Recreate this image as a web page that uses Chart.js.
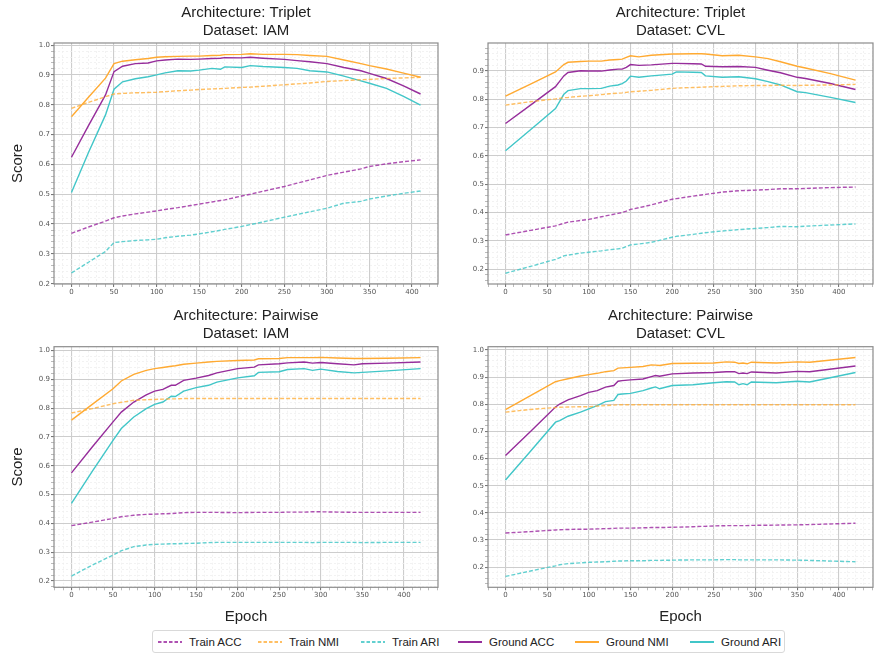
<!DOCTYPE html>
<html>
<head>
<meta charset="utf-8">
<script src="https://cdn.jsdelivr.net/npm/chart.js@4/dist/chart.umd.min.js"></script>
<style>
  html, body { margin: 0; padding: 0; background: #fff; }
  #wrap { position: relative; width: 881px; height: 657px; overflow: hidden; font-family: "Liberation Sans", Arial, sans-serif; }
  canvas { position: absolute; }
  #legend { position: absolute; left: 152px; top: 630px; width: 633px; height: 23px; border: 1px solid #d9d9d9; border-radius: 3px; box-sizing: border-box; }
  .li { position: absolute; top: 0; height: 21px; display: flex; align-items: center; font-size: 11.5px; color: #222; white-space: nowrap; }
  .li svg { margin-right: 7px; }
</style>
</head>
<body>
<div id="wrap">
  <canvas id="c1" width="445" height="300" style="left:0;top:0"></canvas>
  <canvas id="c2" width="436" height="300" style="left:445px;top:0"></canvas>
  <canvas id="c3" width="445" height="330" style="left:0;top:300px"></canvas>
  <canvas id="c4" width="436" height="330" style="left:445px;top:300px"></canvas>
  <div id="legend"></div>
</div>
<script>
// ---------------- DATA ----------------
const seriesNames = ['Train ACC', 'Train NMI', 'Train ARI', 'Ground ACC', 'Ground NMI', 'Ground ARI'];
const xTickLabels = [0, 50, 100, 150, 200, 250, 300, 350, 400];
const yTickLabels = [0.2, 0.3, 0.4, 0.5, 0.6, 0.7, 0.8, 0.9, 1.0];

// Triplet / IAM
const tiEpochs = [0, 20, 40, 50, 60, 75, 90, 100, 110, 125, 140, 150, 165, 175, 180, 200, 210, 225, 250, 265, 280, 300, 320, 340, 350, 370, 390, 410];
const tiTrainAcc = [0.369, 0.390, 0.410, 0.421, 0.427, 0.434, 0.440, 0.444, 0.449, 0.455, 0.462, 0.467, 0.474, 0.479, 0.481, 0.494, 0.500, 0.510, 0.526, 0.537, 0.548, 0.563, 0.574, 0.585, 0.593, 0.602, 0.609, 0.615];
const tiTrainNmi = [0.788, 0.808, 0.827, 0.836, 0.838, 0.840, 0.841, 0.842, 0.844, 0.847, 0.849, 0.851, 0.853, 0.854, 0.855, 0.858, 0.859, 0.862, 0.867, 0.870, 0.873, 0.878, 0.881, 0.884, 0.885, 0.888, 0.890, 0.892];
const tiTrainAri = [0.236, 0.272, 0.308, 0.338, 0.341, 0.345, 0.347, 0.349, 0.354, 0.359, 0.363, 0.367, 0.374, 0.379, 0.382, 0.392, 0.398, 0.407, 0.423, 0.432, 0.441, 0.453, 0.470, 0.476, 0.484, 0.494, 0.503, 0.511];
const tiGroundAcc = [0.624, 0.730, 0.833, 0.911, 0.929, 0.938, 0.940, 0.947, 0.950, 0.953, 0.952, 0.953, 0.955, 0.956, 0.958, 0.957, 0.959, 0.956, 0.952, 0.948, 0.944, 0.938, 0.925, 0.914, 0.905, 0.888, 0.863, 0.836];
const tiGroundNmi = [0.760, 0.825, 0.889, 0.938, 0.946, 0.951, 0.955, 0.959, 0.961, 0.962, 0.963, 0.963, 0.965, 0.966, 0.968, 0.969, 0.971, 0.969, 0.969, 0.968, 0.965, 0.962, 0.950, 0.938, 0.931, 0.920, 0.906, 0.892];
const tiGroundAri = [0.506, 0.640, 0.766, 0.852, 0.877, 0.887, 0.894, 0.900, 0.907, 0.914, 0.913, 0.916, 0.922, 0.919, 0.927, 0.925, 0.931, 0.928, 0.925, 0.922, 0.914, 0.910, 0.896, 0.880, 0.872, 0.855, 0.828, 0.799];

// Triplet / CVL
const tcEpochs = [0, 30, 60, 70, 75, 90, 100, 115, 125, 135, 140, 145, 150, 160, 175, 200, 205, 225, 235, 240, 260, 280, 300, 315, 330, 350, 360, 390, 420];
const tcTrainAcc = [0.321, 0.337, 0.353, 0.362, 0.366, 0.372, 0.376, 0.385, 0.391, 0.397, 0.400, 0.405, 0.411, 0.417, 0.427, 0.447, 0.449, 0.458, 0.462, 0.464, 0.472, 0.477, 0.479, 0.481, 0.484, 0.484, 0.485, 0.488, 0.490];
const tcTrainNmi = [0.779, 0.791, 0.801, 0.805, 0.806, 0.810, 0.812, 0.816, 0.819, 0.821, 0.822, 0.824, 0.826, 0.828, 0.831, 0.838, 0.839, 0.841, 0.842, 0.843, 0.845, 0.847, 0.848, 0.848, 0.849, 0.848, 0.849, 0.850, 0.852];
const tcTrainAri = [0.186, 0.210, 0.235, 0.247, 0.250, 0.257, 0.260, 0.265, 0.269, 0.272, 0.274, 0.280, 0.286, 0.289, 0.295, 0.313, 0.316, 0.323, 0.327, 0.329, 0.335, 0.340, 0.344, 0.347, 0.351, 0.350, 0.352, 0.356, 0.360];
const tcGroundAcc = [0.714, 0.779, 0.844, 0.882, 0.894, 0.900, 0.899, 0.899, 0.903, 0.906, 0.906, 0.912, 0.922, 0.919, 0.921, 0.926, 0.926, 0.925, 0.924, 0.916, 0.914, 0.915, 0.912, 0.902, 0.893, 0.877, 0.873, 0.855, 0.834];
const tcGroundNmi = [0.811, 0.853, 0.896, 0.922, 0.930, 0.933, 0.934, 0.934, 0.938, 0.940, 0.941, 0.947, 0.953, 0.949, 0.955, 0.959, 0.959, 0.960, 0.960, 0.959, 0.953, 0.955, 0.949, 0.943, 0.932, 0.916, 0.910, 0.890, 0.867];
const tcGroundAri = [0.618, 0.692, 0.767, 0.817, 0.830, 0.837, 0.837, 0.838, 0.846, 0.850, 0.855, 0.864, 0.881, 0.877, 0.882, 0.888, 0.896, 0.895, 0.894, 0.882, 0.877, 0.879, 0.872, 0.862, 0.850, 0.826, 0.823, 0.806, 0.788];

// Pairwise / IAM
const piEpochs = [0, 25, 50, 60, 75, 90, 100, 110, 120, 125, 135, 150, 165, 175, 200, 220, 225, 250, 260, 280, 290, 300, 320, 340, 350, 380, 420];
const piTrainAcc = [0.392, 0.404, 0.417, 0.423, 0.428, 0.431, 0.432, 0.433, 0.434, 0.435, 0.437, 0.438, 0.438, 0.438, 0.437, 0.438, 0.438, 0.438, 0.439, 0.439, 0.440, 0.440, 0.439, 0.438, 0.438, 0.438, 0.438];
const piTrainNmi = [0.783, 0.798, 0.815, 0.820, 0.827, 0.829, 0.830, 0.831, 0.832, 0.832, 0.833, 0.833, 0.833, 0.833, 0.833, 0.833, 0.833, 0.833, 0.833, 0.833, 0.833, 0.833, 0.833, 0.833, 0.833, 0.833, 0.833];
const piTrainAri = [0.217, 0.255, 0.290, 0.305, 0.319, 0.325, 0.327, 0.328, 0.329, 0.329, 0.330, 0.331, 0.333, 0.334, 0.334, 0.334, 0.334, 0.334, 0.334, 0.334, 0.333, 0.334, 0.334, 0.334, 0.333, 0.334, 0.334];
const piGroundAcc = [0.575, 0.665, 0.752, 0.786, 0.821, 0.846, 0.859, 0.865, 0.879, 0.879, 0.896, 0.904, 0.913, 0.922, 0.937, 0.942, 0.950, 0.954, 0.957, 0.960, 0.956, 0.958, 0.954, 0.950, 0.954, 0.956, 0.960];
const piGroundNmi = [0.758, 0.813, 0.867, 0.894, 0.917, 0.931, 0.937, 0.941, 0.945, 0.947, 0.952, 0.956, 0.960, 0.962, 0.965, 0.967, 0.971, 0.972, 0.975, 0.975, 0.975, 0.976, 0.974, 0.972, 0.972, 0.973, 0.975];
const piGroundAri = [0.469, 0.580, 0.688, 0.729, 0.769, 0.798, 0.813, 0.821, 0.841, 0.840, 0.859, 0.871, 0.879, 0.890, 0.905, 0.912, 0.924, 0.926, 0.934, 0.937, 0.931, 0.935, 0.927, 0.922, 0.924, 0.929, 0.937];

// Pairwise / CVL
const pcEpochs = [0, 30, 60, 65, 75, 90, 100, 110, 120, 130, 135, 140, 150, 165, 175, 180, 185, 200, 225, 250, 265, 275, 280, 285, 290, 295, 325, 350, 365, 420];
const pcTrainAcc = [0.326, 0.331, 0.337, 0.338, 0.339, 0.340, 0.340, 0.341, 0.342, 0.343, 0.344, 0.344, 0.344, 0.345, 0.346, 0.346, 0.346, 0.347, 0.349, 0.352, 0.353, 0.353, 0.353, 0.353, 0.353, 0.354, 0.355, 0.356, 0.357, 0.362];
const pcTrainNmi = [0.771, 0.781, 0.788, 0.789, 0.790, 0.791, 0.791, 0.793, 0.795, 0.797, 0.798, 0.798, 0.798, 0.798, 0.798, 0.798, 0.798, 0.798, 0.798, 0.798, 0.798, 0.798, 0.798, 0.798, 0.798, 0.798, 0.798, 0.798, 0.798, 0.798];
const pcTrainAri = [0.166, 0.186, 0.205, 0.209, 0.213, 0.216, 0.218, 0.219, 0.220, 0.222, 0.223, 0.223, 0.224, 0.224, 0.225, 0.225, 0.225, 0.226, 0.227, 0.227, 0.228, 0.228, 0.227, 0.227, 0.227, 0.227, 0.227, 0.226, 0.225, 0.220];
const pcGroundAcc = [0.611, 0.700, 0.790, 0.801, 0.816, 0.832, 0.844, 0.850, 0.863, 0.869, 0.885, 0.887, 0.890, 0.893, 0.902, 0.906, 0.903, 0.912, 0.915, 0.917, 0.920, 0.920, 0.913, 0.915, 0.913, 0.919, 0.915, 0.921, 0.920, 0.941];
const pcGroundNmi = [0.780, 0.832, 0.883, 0.887, 0.894, 0.904, 0.909, 0.914, 0.920, 0.924, 0.933, 0.934, 0.936, 0.939, 0.945, 0.944, 0.943, 0.950, 0.951, 0.952, 0.956, 0.955, 0.950, 0.952, 0.949, 0.955, 0.952, 0.956, 0.955, 0.972];
const pcGroundAri = [0.521, 0.627, 0.734, 0.740, 0.756, 0.771, 0.783, 0.795, 0.810, 0.814, 0.836, 0.838, 0.840, 0.850, 0.860, 0.864, 0.857, 0.869, 0.872, 0.879, 0.883, 0.882, 0.872, 0.876, 0.872, 0.882, 0.879, 0.885, 0.882, 0.917];

// ---------------- STYLE ----------------
const colors = ['rgba(160,50,165,0.85)', 'rgba(255,175,60,0.8)', 'rgba(70,200,200,0.85)',
                'rgb(150,45,155)', 'rgb(255,170,50)', 'rgb(65,198,200)'];
const dashed = [true, true, true, false, false, false];

const frame = {
  id: 'frame',
  afterDraw(c) {
    const a = c.chartArea, ctx = c.ctx;
    ctx.save();
    ctx.strokeStyle = '#8c8c8c';
    ctx.lineWidth = 1.2;
    ctx.strokeRect(a.left, a.top, a.right - a.left, a.bottom - a.top);
    ctx.restore();
  }
};

function gridTicks(min, max, step) {
  const out = [];
  for (let k = Math.ceil(min / step - 1e-9); k * step <= max + 1e-9; k++) out.push({ value: +(k * step).toFixed(4) });
  return out;
}
const isMajorX = v => xTickLabels.includes(Math.round(v));
const isMajorY = v => yTickLabels.some(t => Math.abs(t - v) < 1e-6);

function makeChart(id, cfg) {
  const series = [cfg.trainAcc, cfg.trainNmi, cfg.trainAri, cfg.groundAcc, cfg.groundNmi, cfg.groundAri];
  const datasets = series.map((vals, i) => ({
    label: seriesNames[i],
    data: cfg.epochs.map((e, j) => ({ x: e, y: vals[j] })),
    borderColor: colors[i],
    borderWidth: 1.4,
    borderDash: dashed[i] ? [4, 2] : [],
    pointRadius: 0,
    tension: 0,
    fill: false
  }));
  const tickFont = { family: 'DejaVu Sans', size: 7 };
  return new Chart(document.getElementById(id), {
    type: 'line',
    data: { datasets },
    plugins: [frame],
    options: {
      responsive: false,
      animation: false,
      events: [],
      layout: { padding: { left: 0, right: cfg.padRight, top: 0, bottom: 0 } },
      plugins: {
        legend: { display: false },
        tooltip: { enabled: false },
        title: {
          display: true,
          fullSize: false,
          text: cfg.title,
          color: '#222',
          font: { family: 'Liberation Sans', size: 15, weight: 'normal', lineHeight: 1.2 },
          padding: { top: cfg.titleTop, bottom: cfg.titleBottom }
        }
      },
      scales: {
        x: {
          type: 'linear',
          min: cfg.xMin, max: cfg.xMax,
          afterBuildTicks: ax => { ax.ticks = gridTicks(cfg.xMin, cfg.xMax, 10); },
          afterFit: s => { s.height = cfg.xHeight; },
          ticks: {
            autoSkip: false, maxRotation: 0, padding: 1, color: '#555', font: tickFont,
            callback: v => isMajorX(v) ? String(Math.round(v)) : ''
          },
          grid: {
            color: c => isMajorX(c.tick.value) ? '#cdcdcd' : '#efefef',
            lineWidth: c => isMajorX(c.tick.value) ? 1.1 : 0.8,
            tickColor: c => isMajorX(c.tick.value) ? '#777' : '#aaa',
            tickLength: 3
          },
          border: { display: false, dash: c => (c.tick && isMajorX(c.tick.value)) ? [] : [2, 2] },
          title: {
            display: cfg.showX, text: 'Epoch', color: '#222',
            font: { family: 'Liberation Sans', size: 15, lineHeight: 1.2 },
            padding: { top: 0, bottom: 4 }
          }
        },
        y: {
          type: 'linear',
          min: cfg.yMin, max: cfg.yMax,
          afterBuildTicks: ax => { ax.ticks = gridTicks(cfg.yMin, cfg.yMax, 0.02); },
          afterFit: s => { s.width = cfg.yWidth; },
          ticks: {
            autoSkip: false, padding: 1, color: '#555', font: tickFont,
            callback: v => isMajorY(v) ? v.toFixed(1) : ''
          },
          grid: {
            color: c => isMajorY(c.tick.value) ? '#cdcdcd' : '#efefef',
            lineWidth: c => isMajorY(c.tick.value) ? 1.1 : 0.8,
            tickColor: c => isMajorY(c.tick.value) ? '#777' : '#aaa',
            tickLength: 3
          },
          border: { display: false, dash: c => (c.tick && isMajorY(c.tick.value)) ? [] : [2, 2] },
          title: {
            display: cfg.showY, text: 'Score', color: '#222',
            font: { family: 'Liberation Sans', size: 15, lineHeight: 1.2 },
            padding: { top: 8.5, bottom: 0 }
          }
        }
      }
    }
  });
}

makeChart('c1', {
  title: ['Architecture: Triplet', 'Dataset: IAM'], titleTop: 4, titleBottom: 3,
  epochs: tiEpochs, trainAcc: tiTrainAcc, trainNmi: tiTrainNmi, trainAri: tiTrainAri,
  groundAcc: tiGroundAcc, groundNmi: tiGroundNmi, groundAri: tiGroundAri,
  xMin: -20.5, xMax: 430.5, yMin: 0.199, yMax: 1.007,
  yWidth: 54, xHeight: 16, padRight: 7, showX: false, showY: true
});
makeChart('c2', {
  title: ['Architecture: Triplet', 'Dataset: CVL'], titleTop: 4, titleBottom: 3,
  epochs: tcEpochs, trainAcc: tcTrainAcc, trainNmi: tcTrainNmi, trainAri: tcTrainAri,
  groundAcc: tcGroundAcc, groundNmi: tcGroundNmi, groundAri: tcGroundAri,
  xMin: -21, xMax: 441, yMin: 0.148, yMax: 0.998,
  yWidth: 43, xHeight: 16, padRight: 8, showX: false, showY: false
});
makeChart('c3', {
  title: ['Architecture: Pairwise', 'Dataset: IAM'], titleTop: 7, titleBottom: 3.7,
  epochs: piEpochs, trainAcc: piTrainAcc, trainNmi: piTrainNmi, trainAri: piTrainAri,
  groundAcc: piGroundAcc, groundNmi: piGroundNmi, groundAri: piGroundAri,
  xMin: -21, xMax: 441, yMin: 0.178, yMax: 1.013,
  yWidth: 54, xHeight: 42.7, padRight: 7, showX: true, showY: true
});
makeChart('c4', {
  title: ['Architecture: Pairwise', 'Dataset: CVL'], titleTop: 7, titleBottom: 3.7,
  epochs: pcEpochs, trainAcc: pcTrainAcc, trainNmi: pcTrainNmi, trainAri: pcTrainAri,
  groundAcc: pcGroundAcc, groundNmi: pcGroundNmi, groundAri: pcGroundAri,
  xMin: -21, xMax: 441, yMin: 0.126, yMax: 1.012,
  yWidth: 43, xHeight: 42.7, padRight: 8, showX: true, showY: false
});

// ---------------- LEGEND ----------------
const legendX = [5, 105, 208, 305, 422, 537];
const legend = document.getElementById('legend');
seriesNames.forEach((name, i) => {
  const d = document.createElement('div');
  d.className = 'li';
  d.style.left = legendX[i] + 'px';
  const dash = dashed[i] ? 'stroke-dasharray="3.5,2"' : '';
  d.innerHTML = '<svg width="24" height="6"><line x1="0" y1="3" x2="24" y2="3" stroke="' + colors[i] +
    '" stroke-width="2" ' + dash + '/></svg>' + name;
  legend.appendChild(d);
});
</script>
</body>
</html>
